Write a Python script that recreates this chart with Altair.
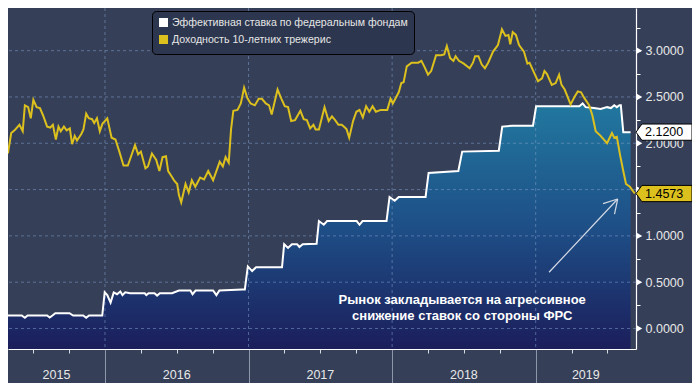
import altair as alt
import pandas as pd

W, H = 628, 341
X0, X1 = 2015.3245, 2019.6986
Y0, Y1 = -0.2215, 3.4607
BG = "#353f58"
FONT = "Liberation Sans"

FED_NAME = "Эффективная ставка по федеральным фондам"
UST_NAME = "Доходность 10-летних трежерис"

# (decimal year, %)
UST_POINTS = [
    (2015.324, 1.89), (2015.347, 2.11), (2015.370, 2.14), (2015.404, 2.20), (2015.427, 2.13),
    (2015.442, 2.41), (2015.465, 2.39), (2015.483, 2.27), (2015.501, 2.47), (2015.524, 2.39),
    (2015.547, 2.38), (2015.569, 2.30), (2015.597, 2.18), (2015.619, 2.17), (2015.637, 2.20),
    (2015.658, 2.04), (2015.676, 2.18), (2015.692, 2.13), (2015.714, 2.18), (2015.733, 2.14),
    (2015.755, 2.16), (2015.771, 1.99), (2015.789, 2.08), (2015.805, 2.03), (2015.835, 2.10),
    (2015.850, 2.15), (2015.869, 2.32), (2015.887, 2.27), (2015.910, 2.26), (2015.925, 2.22),
    (2015.944, 2.27), (2015.964, 2.13), (2015.982, 2.21), (2016.016, 2.27), (2016.046, 2.06),
    (2016.073, 2.04), (2016.100, 1.91), (2016.129, 1.76), (2016.159, 1.76), (2016.182, 1.86),
    (2016.209, 1.98), (2016.231, 1.88), (2016.250, 1.91), (2016.282, 1.73), (2016.299, 1.75),
    (2016.327, 1.89), (2016.357, 1.82), (2016.379, 1.70), (2016.401, 1.85), (2016.425, 1.86),
    (2016.440, 1.70), (2016.469, 1.63), (2016.481, 1.60), (2016.503, 1.56), (2016.515, 1.44),
    (2016.531, 1.36), (2016.561, 1.56), (2016.583, 1.47), (2016.605, 1.60), (2016.629, 1.53),
    (2016.663, 1.63), (2016.690, 1.61), (2016.719, 1.70), (2016.753, 1.60), (2016.799, 1.80),
    (2016.821, 1.75), (2016.840, 1.85), (2016.862, 1.79), (2016.878, 2.15), (2016.894, 2.35),
    (2016.923, 2.36), (2016.946, 2.43), (2016.969, 2.60), (2016.991, 2.49), (2017.014, 2.43),
    (2017.044, 2.41), (2017.071, 2.48), (2017.093, 2.48), (2017.120, 2.43), (2017.143, 2.41),
    (2017.161, 2.31), (2017.202, 2.58), (2017.229, 2.48), (2017.252, 2.40), (2017.275, 2.39),
    (2017.297, 2.24), (2017.324, 2.25), (2017.361, 2.35), (2017.384, 2.26), (2017.406, 2.25),
    (2017.429, 2.16), (2017.452, 2.20), (2017.467, 2.15), (2017.490, 2.15), (2017.529, 2.39),
    (2017.558, 2.24), (2017.581, 2.29), (2017.603, 2.25), (2017.626, 2.20), (2017.649, 2.20),
    (2017.671, 2.17), (2017.683, 2.15), (2017.701, 2.06), (2017.728, 2.24), (2017.751, 2.34),
    (2017.773, 2.36), (2017.796, 2.28), (2017.819, 2.40), (2017.841, 2.34), (2017.864, 2.40),
    (2017.887, 2.34), (2017.921, 2.36), (2017.966, 2.36), (2017.989, 2.48), (2018.005, 2.43),
    (2018.046, 2.55), (2018.064, 2.65), (2018.080, 2.66), (2018.102, 2.83), (2018.136, 2.87),
    (2018.182, 2.87), (2018.204, 2.89), (2018.227, 2.82), (2018.250, 2.74), (2018.272, 2.78),
    (2018.306, 2.95), (2018.340, 2.95), (2018.363, 2.96), (2018.381, 3.05), (2018.404, 2.92),
    (2018.427, 2.89), (2018.442, 2.94), (2018.465, 2.89), (2018.499, 2.86), (2018.540, 2.81),
    (2018.563, 2.87), (2018.578, 2.94), (2018.601, 2.94), (2018.624, 2.85), (2018.646, 2.81),
    (2018.669, 2.87), (2018.703, 2.99), (2018.737, 3.06), (2018.765, 3.23), (2018.789, 3.16),
    (2018.810, 3.17), (2018.823, 3.07), (2018.840, 3.20), (2018.862, 3.17), (2018.884, 3.06),
    (2018.918, 2.99), (2018.942, 2.86), (2018.957, 2.87), (2018.986, 2.77), (2019.016, 2.67),
    (2019.044, 2.70), (2019.061, 2.78), (2019.078, 2.75), (2019.112, 2.63), (2019.139, 2.65),
    (2019.163, 2.74), (2019.180, 2.63), (2019.202, 2.58), (2019.243, 2.42), (2019.270, 2.50),
    (2019.293, 2.56), (2019.316, 2.55), (2019.338, 2.49), (2019.372, 2.41), (2019.395, 2.30),
    (2019.418, 2.13), (2019.452, 2.08), (2019.497, 2.00), (2019.531, 2.11), (2019.547, 2.06),
    (2019.565, 2.07), (2019.588, 1.87), (2019.610, 1.70), (2019.629, 1.56), (2019.656, 1.53),
    (2019.690, 1.4573),
]

FED_POINTS = [
    (2015.324, 0.14), (2015.420, 0.14), (2015.442, 0.115), (2015.461, 0.14), (2015.597, 0.14),
    (2015.615, 0.118), (2015.634, 0.14), (2015.654, 0.165), (2015.753, 0.165), (2015.778, 0.14),
    (2015.848, 0.14), (2015.869, 0.115), (2015.889, 0.14), (2015.981, 0.14), (2015.998, 0.39),
    (2016.016, 0.36), (2016.039, 0.28), (2016.061, 0.39), (2016.084, 0.37), (2016.107, 0.40),
    (2016.122, 0.36), (2016.141, 0.39), (2016.175, 0.38), (2016.277, 0.38), (2016.288, 0.36),
    (2016.304, 0.38), (2016.345, 0.38), (2016.363, 0.355), (2016.382, 0.38), (2016.467, 0.38),
    (2016.515, 0.41), (2016.595, 0.41), (2016.610, 0.37), (2016.631, 0.41), (2016.753, 0.41),
    (2016.776, 0.36), (2016.797, 0.41), (2016.957, 0.42), (2016.974, 0.42), (2016.995, 0.67),
    (2017.025, 0.62), (2017.052, 0.66), (2017.233, 0.66), (2017.248, 0.91), (2017.275, 0.87),
    (2017.302, 0.91), (2017.338, 0.91), (2017.354, 0.88), (2017.377, 0.91), (2017.474, 0.915),
    (2017.490, 1.16), (2017.524, 1.12), (2017.547, 1.16), (2017.753, 1.16), (2017.773, 1.12),
    (2017.794, 1.16), (2017.961, 1.16), (2017.982, 1.42), (2018.018, 1.38), (2018.046, 1.42),
    (2018.233, 1.42), (2018.254, 1.68), (2018.461, 1.70), (2018.488, 1.91), (2018.743, 1.92),
    (2018.767, 2.18), (2018.839, 2.19), (2018.981, 2.19), (2019.003, 2.40), (2019.304, 2.40),
    (2019.327, 2.43), (2019.348, 2.39), (2019.406, 2.38), (2019.452, 2.37), (2019.497, 2.39),
    (2019.524, 2.38), (2019.547, 2.41), (2019.565, 2.39), (2019.583, 2.41), (2019.593, 2.41),
    (2019.610, 2.12), (2019.661, 2.12),
]

Y_TICKS = [0.0, 0.25, 0.5, 0.75, 1.0, 1.25, 1.5, 1.75, 2.0, 2.25, 2.5, 2.75, 3.0, 3.25]
Y_MAJOR = [0.0, 0.5, 1.0, 1.5, 2.0, 2.5, 3.0]
X_TICKS = [2015.5, 2015.75, 2016.0, 2016.25, 2016.5, 2016.75, 2017.0, 2017.25, 2017.5,
           2017.75, 2018.0, 2018.25, 2018.5, 2018.75, 2019.0, 2019.25, 2019.5]
YEAR_BOUNDS = [2016.0, 2017.0, 2018.0, 2019.0]
YEAR_LABELS = ["2015", "2016", "2017", "2018", "2019"]
YEAR_LABEL_POS = [2015.662, 2016.5, 2017.5, 2018.5, 2019.349]

NOTE_TEXT = "Рынок закладывается на агрессивное\nснижение ставок со стороны ФРС"
NOTE_POS = (2018.488, 0.303)
ARROW = [  # t, v, t2, v2
    (2019.093, 0.607, 2019.571, 1.398),
    (2019.571, 1.398, 2019.469, 1.349),
    (2019.571, 1.398, 2019.549, 1.235),
]

fed = pd.DataFrame(FED_POINTS, columns=["t", "v"])
fed["series"] = FED_NAME
fed["base"] = Y0
ust = pd.DataFrame(UST_POINTS, columns=["t", "v"])
ust["series"] = UST_NAME

xs = alt.Scale(domain=[X0, X1], nice=False, zero=False)
ys = alt.Scale(domain=[Y0, Y1], nice=False, zero=False)

xaxis = alt.Axis(
    values=X_TICKS, labels=False, grid=False, title=None, zindex=1,
    domainColor="#ffffff", domainWidth=1.2,
    tickSize={"condition": {"test": "datum.value % 1 === 0", "value": 34}, "value": 4},
    tickColor={"condition": {"test": "datum.value % 1 === 0", "value": "#8e97aa"}, "value": "#d6d9e0"},
    tickWidth=1,
)
# the 1.5000 label sits fully under the 10-year tag in the reference
yaxis = alt.Axis(
    orient="right", values=Y_TICKS, grid=False, title=None, zindex=0,
    domainColor="#ffffff", domainWidth=1.2, tickColor="#ffffff", tickSize=4,
    labelExpr="(datum.value % 0.5 === 0 && datum.value !== 1.5) ? format(datum.value, '.4f') : ''",
    labelColor="#e8e8e8", labelFont=FONT, labelFontSize=12.5, labelPadding=5,
    labelOverlap=False,
)


def X(f="t"):
    return alt.X(f"{f}:Q", scale=xs, axis=xaxis)


def Y(f="v"):
    return alt.Y(f"{f}:Q", scale=ys, axis=yaxis)


# a square swatch built from overlapping stroked bars, so the line legend looks filled
SWATCH = "M-1,-0.78H1M-1,-0.39H1M-1,0H1M-1,0.39H1M-1,0.78H1"
color_scale = alt.Scale(domain=[FED_NAME, UST_NAME], range=["#ffffff", "#dcc01e"])
legend = alt.Legend(
    title=None, orient="none", legendX=144, legendY=3,
    symbolType=SWATCH, symbolSize=81, symbolStrokeWidth=2, symbolOpacity=1,
    labelFont=FONT, labelFontSize=10.6, labelColor="#e6e6e6", labelLimit=500, labelOffset=3,
    fillColor="#2c364e", strokeColor="#000000", cornerRadius=4, padding=6, rowPadding=0,
)

grad = alt.Gradient(
    gradient="linear", x1=0, x2=0, y1=0, y2=1,
    stops=[alt.GradientStop(color="#21789f", offset=0),
           alt.GradientStop(color="#1e4f87", offset=0.5),
           alt.GradientStop(color="#1b1e5b", offset=1)],
)

area = alt.Chart(fed).mark_area(fill=grad, interpolate="linear").encode(
    x=X(), y=Y(), y2="base:Q",
)

grid_style = dict(color="#7f9fc8", opacity=0.55, strokeDash=[3, 3], strokeWidth=1)
hgrid = alt.Chart(pd.DataFrame({"v": Y_MAJOR})).mark_rule(**grid_style).encode(y=Y())
vgrid = alt.Chart(pd.DataFrame({"t": YEAR_BOUNDS})).mark_rule(**grid_style).encode(x=X())

fed_line = alt.Chart(fed).mark_line(strokeWidth=2).encode(
    x=X(), y=Y(),
    stroke=alt.Stroke("series:N", scale=color_scale, legend=legend),
)
ust_line = alt.Chart(ust).mark_line(strokeWidth=2).encode(
    x=X(), y=Y(),
    stroke=alt.Stroke("series:N", scale=color_scale, legend=legend),
)

arrow = alt.Chart(pd.DataFrame(ARROW, columns=["t", "v", "t2", "v2"])).mark_rule(
    color="#d5dbe6", strokeWidth=1.2).encode(x=X(), y=Y(), x2="t2:Q", y2="v2:Q")

note = alt.Chart(pd.DataFrame({"t": [NOTE_POS[0]], "v": [NOTE_POS[1]], "label": [NOTE_TEXT]})).mark_text(
    lineBreak="\n", align="center", baseline="middle", font=FONT, fontWeight="bold",
    fontSize=13, lineHeight=15.5, color="#ffffff").encode(x=X(), y=Y(), text="label:N")

tri = alt.Chart(pd.DataFrame({"v": Y_MAJOR})).mark_point(
    shape="triangle-right", filled=True, size=40, color="#ffffff", opacity=1).encode(
    x=alt.value(W + 3.5), y=Y())

TAG_SHAPE = "M-1,0L-0.79,-0.29L1,-0.29L1,0.29L-0.79,0.29Z"
last_fed = pd.DataFrame({"v": [FED_POINTS[-1][1]]})
last_ust = pd.DataFrame({"v": [UST_POINTS[-1][1]]})


def tag(df, fill):
    box = alt.Chart(df).mark_point(shape=TAG_SHAPE, size=3136, filled=True, fill=fill,
                                   stroke="#000000", strokeWidth=1, opacity=1).encode(
        x=alt.value(W + 28), y=Y())
    txt = alt.Chart(df).mark_text(align="left", baseline="middle", font=FONT, fontSize=12.5,
                                  color="#000000").encode(
        x=alt.value(W + 9), y=Y(), text=alt.Text("v:Q", format=".4f"))
    return [box, txt]


years = alt.Chart(pd.DataFrame({"t": YEAR_LABEL_POS, "label": YEAR_LABELS})).mark_text(
    font=FONT, fontSize=12.5, color="#e8e8e8", baseline="middle").encode(
    x=X(), y=alt.value(H + 26), text="label:N")

chart = alt.layer(
    area, hgrid, vgrid, fed_line, ust_line, arrow, note, tri,
    *tag(last_fed, "#ffffff"), *tag(last_ust, "#dcc01e"), years,
).properties(
    width=W, height=H, background=BG,
    padding={"left": 0, "top": 0, "right": 56, "bottom": 34},
    autosize=alt.AutoSizeParams(type="none"),
).configure_view(stroke=None, fill=BG)

chart.save("out.html", embed_options={"renderer": "svg", "actions": False})
